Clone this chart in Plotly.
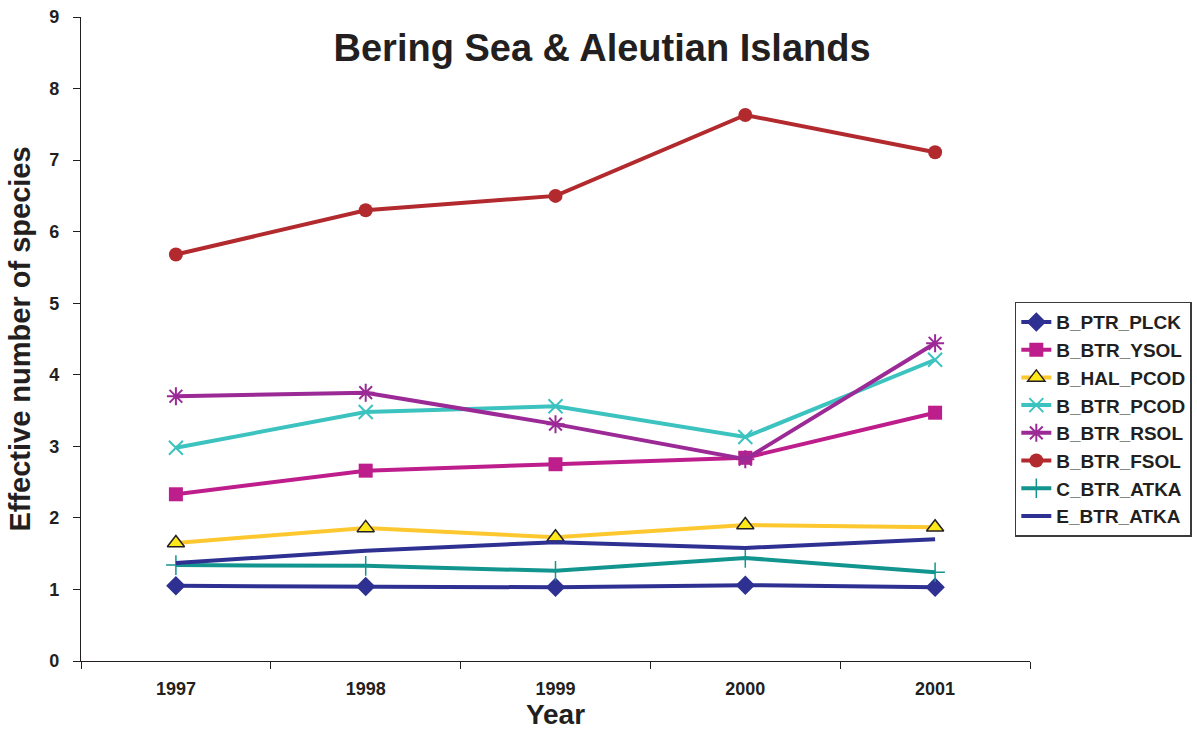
import plotly.graph_objects as go

years = ["1997", "1998", "1999", "2000", "2001"]

b_ptr_plck = [1.05, 1.04, 1.03, 1.06, 1.03]
b_btr_ysol = [2.33, 2.66, 2.75, 2.84, 3.47]
b_hal_pcod = [1.65, 1.86, 1.73, 1.90, 1.87]
b_btr_pcod = [2.98, 3.48, 3.56, 3.13, 4.21]
b_btr_rsol = [3.70, 3.75, 3.31, 2.82, 4.44]
b_btr_fsol = [5.68, 6.30, 6.50, 7.63, 7.11]
c_btr_atka = [1.34, 1.33, 1.26, 1.44, 1.24]
e_btr_atka = [1.37, 1.54, 1.66, 1.58, 1.70]

y_ticks = list(range(0, 10))

FONT = "Liberation Sans, Arial, sans-serif"
INK = "#231F20"

series = [
    ("B_PTR_PLCK", b_ptr_plck, "#2E3192", dict(symbol="diamond", size=15, color="#2E3192")),
    ("B_BTR_YSOL", b_btr_ysol, "#BE1E8C", dict(symbol="square", size=14, color="#BE1E8C")),
    ("B_HAL_PCOD", b_hal_pcod, "#FDC82F", dict(symbol="triangle-up", size=15, color="#FFE81A",
                                               line=dict(color="#231F20", width=1.5))),
    ("B_BTR_PCOD", b_btr_pcod, "#3CC3C0", dict(symbol="x-thin-open", size=14, color="#3CC3C0",
                                               line=dict(color="#3CC3C0", width=2))),
    ("B_BTR_RSOL", b_btr_rsol, "#9B2A96", dict(symbol="asterisk-open", size=15, color="#9B2A96",
                                               line=dict(color="#9B2A96", width=2))),
    ("B_BTR_FSOL", b_btr_fsol, "#B22A2E", dict(symbol="circle", size=14, color="#B22A2E")),
    ("C_BTR_ATKA", c_btr_atka, "#12958F", dict(symbol="cross-thin-open", size=14, color="#12958F",
                                               line=dict(color="#12958F", width=1.5))),
    ("E_BTR_ATKA", e_btr_atka, "#2E3192", None),
]

fig = go.Figure()
for name, values, color, marker in series:
    fig.add_trace(go.Scatter(
        x=years,
        y=values,
        name=name,
        mode="lines+markers" if marker else "lines",
        line=dict(color=color, width=4),
        marker=marker,
    ))

fig.update_layout(
    width=1197,
    height=734,
    paper_bgcolor="white",
    plot_bgcolor="white",
    margin=dict(l=81, r=167, t=17, b=73, autoexpand=False),
    font=dict(family=FONT, color=INK, size=18, weight="bold"),
    title=dict(
        text="Bering Sea & Aleutian Islands",
        font=dict(family=FONT, size=38, color=INK, weight="bold"),
        x=0.503, xanchor="center",
        y=1 - 48 / 734, yanchor="middle", yref="container",
    ),
    showlegend=True,
    legend=dict(
        x=0.984, xanchor="left",
        y=0.558, yanchor="top",
        bgcolor="white",
        bordercolor="#3A3A3A",
        borderwidth=1.5,
        font=dict(family=FONT, size=19, color=INK, weight="bold"),
        itemwidth=30,
        tracegroupgap=0,
    ),
    xaxis=dict(
        type="category",
        range=[-0.5, 4.5],
        tickson="boundaries",
        ticks="outside",
        ticklen=7,
        tickcolor="#231F20",
        tickwidth=1.2,
        showline=True,
        linecolor="#231F20",
        linewidth=1.2,
        showgrid=False,
        zeroline=False,
        tickfont=dict(family=FONT, size=18, color=INK, weight="bold"),
        ticklabelstandoff=11,
        title=dict(text="Year", font=dict(family=FONT, size=28, color=INK, weight="bold"), standoff=2),
    ),
    yaxis=dict(
        range=[0, 9],
        tickvals=y_ticks,
        ticks="outside",
        ticklen=7,
        tickcolor="#231F20",
        tickwidth=1.2,
        showline=True,
        linecolor="#231F20",
        linewidth=1.2,
        showgrid=False,
        zeroline=False,
        tickfont=dict(family=FONT, size=18, color=INK, weight="bold"),
        ticklabelstandoff=10,
        title=dict(text="Effective number of species",
                   font=dict(family=FONT, size=29, color=INK, weight="bold"), standoff=10),
    ),
)

fig.write_html("out.html")
